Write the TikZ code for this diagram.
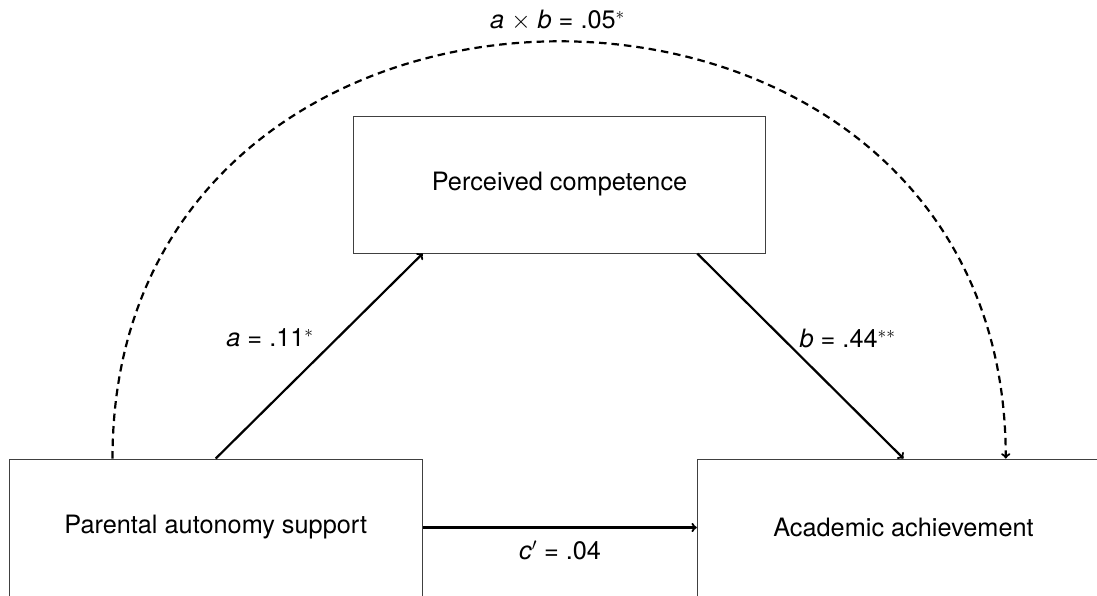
\documentclass[tikz,border=0pt]{standalone}
\usepackage{fontspec}
\setmainfont{TeX Gyre Heros}
\usetikzlibrary{calc}
\begin{document}
\begin{tikzpicture}[x=1pt,y=-1pt,
  box/.style={draw=black!75,line width=1pt,minimum width=412.5pt,minimum height=137pt,inner sep=0pt,font=\fontsize{25.3}{30}\selectfont},
  lbl/.style={inner sep=0pt,font=\fontsize{25.3}{30}\selectfont},
  effect/.style={line width=2.2pt,->},
  indirect/.style={line width=2.2pt,->,dash pattern=on 7.5pt off 5pt}]
\useasboundingbox (0,0) rectangle (1097,595);
\clip (0,0) rectangle (1097,595);
\node[box] (L) at (215.75,527.5) {Parental autonomy support};
\node[box] (T) at (559.5,184.5) {Perceived competence};
\node[box] (R) at (903.5,527.5) {Academic achievement};
\coordinate (Ta) at ($(T.south west)+(70,0)$);
\coordinate (Tb) at ($(T.south east)+(-69,0)$);
\coordinate (S) at ($(L.north west)+(103.5,0)$);
\coordinate (E) at ($(R.north west)+(309,0)$);
\coordinate (S1) at ($(S)+(0,-556)$);
\coordinate (E1) at ($(E)+(0,-556)$);
\draw[effect] (L.north) -- (Ta);
\draw[effect] (Tb) -- (R.north);
\draw[effect] (L.east) -- (R.west);
\draw[indirect] (S) .. controls (S1) and (E1) .. (E);
\node[lbl] (la) at (270,338) {\textit{a} = .11$^{\ast}$};
\node[lbl] (lb) at (847.5,338) {\textit{b} = .44$^{\ast\ast}$};
\node[lbl] (lc) at (560,550.5) {\textit{c}$'$ = .04};
\node[lbl] (lab) at (557.5,20.5) {\textit{a} $\times$ \textit{b} = .05$^{\ast}$};
\end{tikzpicture}
\end{document}
